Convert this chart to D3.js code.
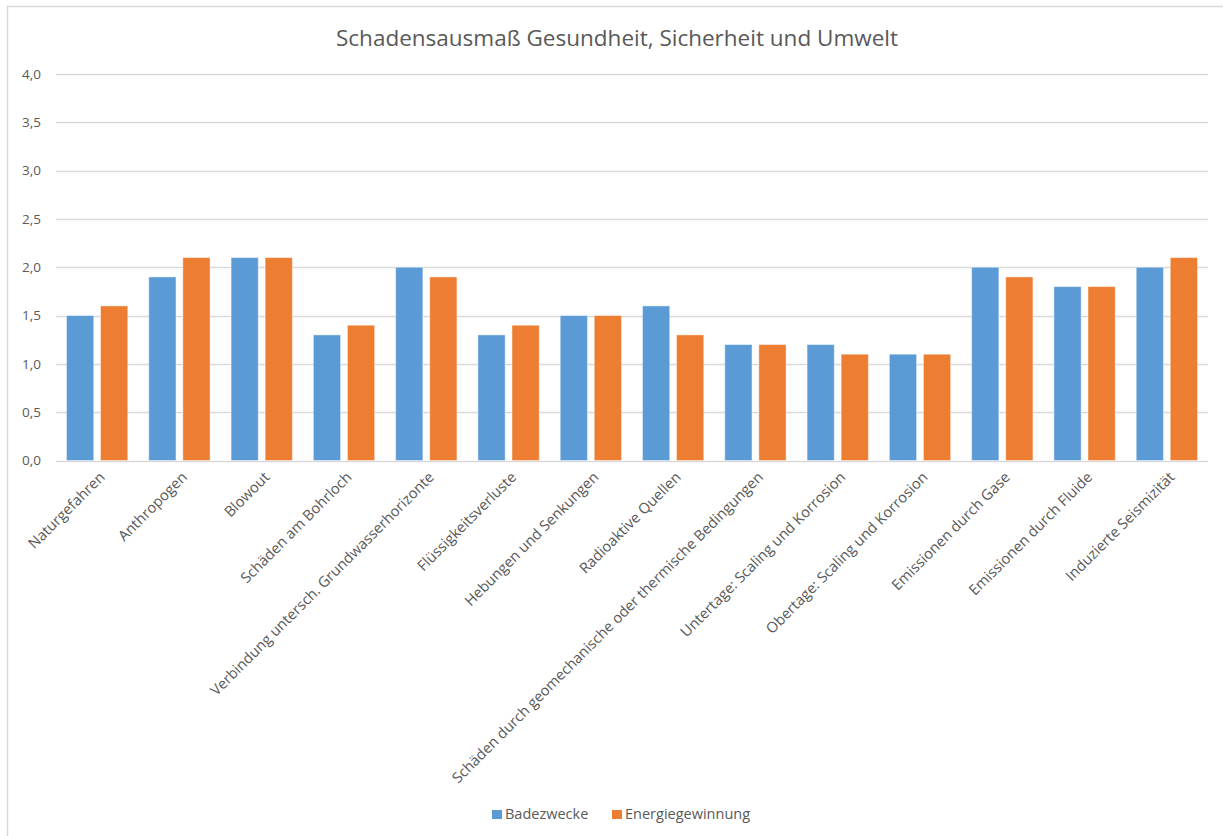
<!DOCTYPE html>
<html>
<head>
<meta charset="utf-8">
<script src="https://cdn.jsdelivr.net/npm/d3@7"></script>
<style>
  html, body { margin: 0; padding: 0; background: #fff; }
  svg { display: block; font-family: "Open Sans", "Noto Sans", sans-serif; }
</style>
</head>
<body>
<svg id="chart" width="1223" height="836"></svg>
<script>
const categories = [
  "Naturgefahren",
  "Anthropogen",
  "Blowout",
  "Schäden am Bohrloch",
  "Verbindung untersch. Grundwasserhorizonte",
  "Flüssigkeitsverluste",
  "Hebungen und Senkungen",
  "Radioaktive Quellen",
  "Schäden durch geomechanische oder thermische Bedingungen",
  "Untertage: Scaling und Korrosion",
  "Obertage: Scaling und Korrosion",
  "Emissionen durch Gase",
  "Emissionen durch Fluide",
  "Induzierte Seismizität"
];
const badezwecke =       [1.5, 1.9, 2.1, 1.3, 2.0, 1.3, 1.5, 1.6, 1.2, 1.2, 1.1, 2.0, 1.8, 2.0];
const energiegewinnung = [1.6, 2.1, 2.1, 1.4, 1.9, 1.4, 1.5, 1.3, 1.2, 1.1, 1.1, 1.9, 1.8, 2.1];
const seriesNames = ["Badezwecke", "Energiegewinnung"];
const seriesColors = ["#5B9BD5", "#ED7D31"];
const yTicks = [0, 0.5, 1, 1.5, 2, 2.5, 3, 3.5, 4];
const title = "Schadensausmaß Gesundheit, Sicherheit und Umwelt";

const svg = d3.select("#chart");
const plot = { left: 56, right: 1208, top: 74, bottom: 460.5 };
const textColor = "#595959";

// outer chart frame
svg.append("rect")
  .attr("x", 7.5).attr("y", 6.5)
  .attr("width", 1240).attr("height", 860)
  .attr("fill", "#fff").attr("stroke", "#d9d9d9").attr("stroke-width", 1.5);

svg.append("text")
  .attr("x", 617).attr("y", 46)
  .attr("text-anchor", "middle")
  .attr("font-size", 22.5)
  .attr("fill", textColor)
  .text(title);

const x0 = d3.scaleBand().domain(categories).range([plot.left, plot.right]).paddingInner(0.255).paddingOuter(0.1275);
const x1 = d3.scaleBand().domain(seriesNames).range([0, x0.bandwidth()]).paddingInner(0.2);
const y = d3.scaleLinear().domain([0, 4]).range([plot.bottom, plot.top]);

// horizontal gridlines
svg.append("g").selectAll("line").data(yTicks).join("line")
  .attr("x1", plot.left).attr("x2", plot.right)
  .attr("y1", d => Math.round(y(d)) + 0.5).attr("y2", d => Math.round(y(d)) + 0.5)
  .attr("stroke", "#d9d9d9").attr("stroke-width", 1.3);

// y axis labels
const fmt = d => d3.format(".1f")(d).replace(".", ",");
svg.append("g").selectAll("text").data(yTicks).join("text")
  .attr("x", 41).attr("y", d => y(d))
  .attr("dy", "0.35em")
  .attr("text-anchor", "end")
  .attr("font-size", 13.5)
  .attr("fill", textColor)
  .text(fmt);

// bars
const series = [badezwecke, energiegewinnung];
const groups = svg.append("g").selectAll("g").data(categories).join("g")
  .attr("transform", d => `translate(${x0(d)},0)`);
groups.selectAll("rect")
  .data((c, i) => seriesNames.map((s, k) => ({ s, v: series[k][i], k })))
  .join("rect")
  .attr("x", d => x1(d.s))
  .attr("width", x1.bandwidth())
  .attr("y", d => y(d.v))
  .attr("height", d => y(0) - y(d.v))
  .attr("fill", d => seriesColors[d.k])
  .attr("stroke", "#fff").attr("stroke-opacity", 0.45).attr("stroke-width", 1);

// category labels, rotated
svg.append("g").selectAll("text").data(categories).join("text")
  .attr("transform", d => `translate(${x0(d) + x0.bandwidth() / 2 + 5},${plot.bottom + 14}) rotate(-45)`)
  .attr("text-anchor", "end")
  .attr("dy", "0.35em")
  .attr("font-size", 14.7)
  .attr("fill", textColor)
  .text(d => d);

// legend
const legend = svg.append("g");
const legendX = [492, 612];
seriesNames.forEach((s, k) => {
  legend.append("rect")
    .attr("x", legendX[k]).attr("y", 810)
    .attr("width", 10).attr("height", 9)
    .attr("fill", seriesColors[k]);
  legend.append("text")
    .attr("x", legendX[k] + 13).attr("y", 819)
    .attr("font-size", 14.5)
    .attr("fill", textColor)
    .text(s);
});
</script>
</body>
</html>
